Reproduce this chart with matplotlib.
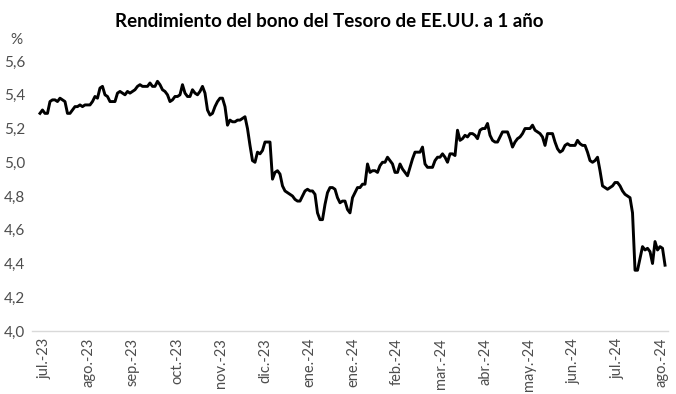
import matplotlib
matplotlib.use('Agg')
import matplotlib.pyplot as plt
import numpy as np

# rendimiento bono Tesoro EE.UU. 1 año, lectura aproximada del grafico (%)
yields = [
    5.29, 5.31, 5.29, 5.29, 5.36, 5.37, 5.37, 5.36, 5.38, 5.37,
    5.36, 5.29, 5.29, 5.31, 5.33, 5.33, 5.34, 5.33, 5.34, 5.34,
    5.34, 5.36, 5.39, 5.38, 5.44, 5.45, 5.40, 5.39, 5.36, 5.36,
    5.36, 5.41, 5.42, 5.41, 5.40, 5.42, 5.41, 5.42, 5.43, 5.45,
    5.46, 5.45, 5.45, 5.45, 5.47, 5.45, 5.45, 5.48, 5.46,
    5.43, 5.42, 5.40, 5.36, 5.37, 5.39, 5.39, 5.40, 5.46, 5.41,
    5.39, 5.39, 5.43, 5.41, 5.40, 5.42, 5.45, 5.41, 5.31, 5.28,
    5.29, 5.33, 5.36, 5.38, 5.38, 5.33, 5.22, 5.25, 5.24, 5.24,
    5.25, 5.25, 5.26, 5.27, 5.20, 5.10, 5.01, 5.00, 5.06, 5.05,
    5.07, 5.12, 5.12, 5.12,
    4.90, 4.94, 4.95, 4.93, 4.86, 4.83, 4.82, 4.81, 4.80, 4.78,
    4.77, 4.77, 4.80, 4.83, 4.84, 4.83, 4.83, 4.81, 4.70, 4.66,
    4.66, 4.75, 4.82, 4.85, 4.85, 4.84, 4.79, 4.76, 4.77, 4.77,
    4.72, 4.70, 4.79, 4.82, 4.85, 4.85, 4.87, 4.87, 4.99, 4.94,
    4.95, 4.95, 4.94, 4.98, 5.00, 5.00, 5.03, 5.01, 4.99, 4.94,
    4.94, 4.99, 4.96, 4.94, 4.92, 4.97, 5.02, 5.06, 5.06, 5.06,
    5.09, 4.99, 4.97, 4.97, 4.97, 5.01, 5.03, 5.03, 5.05, 5.03,
    5.00, 5.05, 5.05, 5.04, 5.19, 5.13, 5.14, 5.16, 5.15, 5.17,
    5.17, 5.16, 5.14, 5.19, 5.20, 5.20, 5.23, 5.16, 5.13, 5.12,
    5.12, 5.15, 5.18, 5.18, 5.18, 5.14, 5.09, 5.12, 5.14, 5.15,
    5.17, 5.20, 5.20, 5.20, 5.22, 5.19, 5.18, 5.17, 5.15, 5.10,
    5.17, 5.17, 5.17, 5.12, 5.08, 5.06, 5.07, 5.10, 5.11, 5.10,
    5.10, 5.10, 5.13, 5.11, 5.10, 5.10, 5.06, 5.01, 5.00, 5.01,
    5.03, 4.95, 4.86, 4.85, 4.84, 4.85, 4.86, 4.88, 4.88, 4.86,
    4.83, 4.81, 4.80, 4.79, 4.70, 4.36, 4.36, 4.43, 4.50, 4.48,
    4.49, 4.47, 4.40, 4.53, 4.48, 4.50, 4.49, 4.39,
]

month_labels = ['jul.-23', 'ago.-23', 'sep.-23', 'oct.-23', 'nov.-23', 'dic.-23',
                'ene.-24', 'ene.-24', 'feb.-24', 'mar.-24', 'abr.-24', 'may.-24',
                'jun.-24', 'jul.-24', 'ago.-24']

yticks = [4.0, 4.2, 4.4, 4.6, 4.8, 5.0, 5.2, 5.4, 5.6]

plt.rcParams['font.family'] = ['Lato', 'DejaVu Sans']

fig = plt.figure(figsize=(6.76, 3.94), dpi=100)
ax = fig.add_axes([0.0473, 0.160, 0.9409, 0.685])

x = np.arange(len(yields))
ax.plot(x, yields, color='black', lw=2.1, solid_joinstyle='round')

ax.set_ylim(4.0, 5.6)
ax.set_xlim(-3.2, 251.2)
ax.set_yticks(yticks)
ax.set_yticklabels([('%.1f' % v).replace('.', ',') for v in yticks], fontsize=11, color='#4d4d4d')

tick_pos = 2 + 17.6 * np.arange(len(month_labels))
ax.set_xticks(tick_pos)
ax.set_xticklabels(month_labels, rotation=90, fontsize=10.5, color='#4d4d4d')
ax.tick_params(axis='both', length=0)
ax.tick_params(axis='x', pad=5)
ax.tick_params(axis='y', pad=5)

for s in ['top', 'right', 'left']:
    ax.spines[s].set_visible(False)
ax.spines['bottom'].set_color('#d9d9d9')
ax.spines['bottom'].set_linewidth(1.0)

fig.text(0.016, 0.898, '%', fontsize=11, color='#4d4d4d', va='center')
fig.text(0.487, 0.945, 'Rendimiento del bono del Tesoro de EE.UU. a 1 año',
         ha='center', va='center', fontsize=13.5, fontweight='bold', color='black')

fig.savefig('out.png', dpi=100)
